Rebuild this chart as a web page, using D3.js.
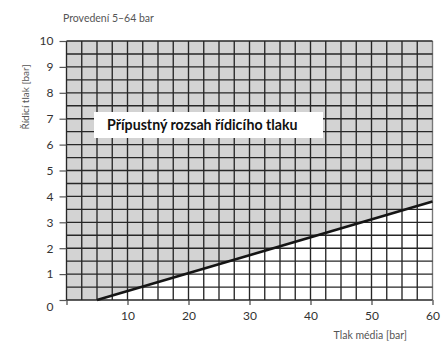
<!DOCTYPE html>
<html>
<head>
<meta charset="utf-8">
<script src="https://cdn.jsdelivr.net/npm/d3@7"></script>
<style>
  html, body { margin: 0; padding: 0; background: #fff; }
  svg { display: block; font-family: "Lato", "Noto Sans", sans-serif; }
</style>
</head>
<body>
<svg id="chart" width="447" height="343"></svg>
<script>
// Axis ticks and labels
const xTicks = [0, 10, 20, 30, 40, 50, 60];
const xTickLabels = ["", "10", "20", "30", "40", "50", "60"];
const yTicks = [0, 1, 2, 3, 4, 5, 6, 7, 8, 9, 10];
const yTickLabels = ["0", "1", "2", "3", "4", "5", "6", "7", "8", "9", "10"];

// Limit line of the admissible control pressure: medium pressure [bar] -> control pressure [bar]
const limitMedium = [5, 60];
const limitControl = [0, 3.8];

// Grid spacing in bar
const gridStepX = 2.5;
const gridStepY = 0.5;

const title = "Provedení 5–64 bar";
const xTitle = "Tlak média [bar]";
const yTitle = "Řídicí tlak [bar]";
const areaLabel = "Přípustný rozsah řídicího tlaku";

const svg = d3.select("#chart");
const plotLeft = 66.5, plotRight = 432.5, plotTop = 41, plotBottom = 300;

const x = d3.scaleLinear().domain([0, 60]).range([plotLeft, plotRight]);
const y = d3.scaleLinear().domain([0, 10]).range([plotBottom, plotTop]);

// Shaded admissible region: everything above the limit line
const regionPts = [[0, 0]]
  .concat(limitMedium.map((m, i) => [m, limitControl[i]]))
  .concat([[60, 10], [0, 10]]);
svg.append("path")
  .attr("d", d3.line().x(d => x(d[0])).y(d => y(d[1]))(regionPts) + "Z")
  .attr("fill", "#d3d3d3");

// Grid
const grid = svg.append("g").attr("stroke", "#262626").attr("stroke-width", 1.35);
grid.selectAll("line.v")
  .data(d3.range(0, 60 + 1e-9, gridStepX))
  .join("line")
  .attr("class", "v")
  .attr("x1", d => x(d)).attr("x2", d => x(d))
  .attr("y1", y(0)).attr("y2", y(10))
  .attr("stroke", (d, i) => (i === 24 ? "#777" : null));
grid.selectAll("line.h")
  .data(d3.range(0, 10 + 1e-9, gridStepY))
  .join("line")
  .attr("class", "h")
  .attr("x1", x(0)).attr("x2", x(60))
  .attr("y1", d => y(d)).attr("y2", d => y(d));

// Y axis ticks and labels
const yAxis = d3.axisLeft(y)
  .tickValues(yTicks)
  .tickSize(7)
  .tickPadding(6)
  .tickFormat((d, i) => yTickLabels[i]);
const gy = svg.append("g").attr("transform", `translate(${plotLeft},0)`).call(yAxis);
gy.select(".domain").remove();
gy.selectAll(".tick line").attr("stroke", "#555").attr("stroke-width", 1.2);
gy.selectAll(".tick text")
  .attr("fill", "#333")
  .attr("font-size", 12)
  .attr("font-family", "Lato, sans-serif")
  .attr("dy", (d) => (d === 0 ? "0.9em" : "0.32em"));

// X axis ticks and labels
const xAxis = d3.axisBottom(x)
  .tickValues(xTicks)
  .tickSize(5)
  .tickPadding(6)
  .tickFormat((d, i) => xTickLabels[i]);
const gx = svg.append("g").attr("transform", `translate(0,${plotBottom})`).call(xAxis);
gx.select(".domain").remove();
gx.selectAll(".tick line").attr("stroke", "#444").attr("stroke-width", 1.2);
gx.selectAll(".tick text")
  .attr("fill", "#333")
  .attr("font-size", 12)
  .attr("font-family", "Lato, sans-serif");

// Limit line
svg.append("path")
  .attr("d", d3.line().x(d => x(d[0])).y(d => y(d[1]))(limitMedium.map((m, i) => [m, limitControl[i]])))
  .attr("fill", "none")
  .attr("stroke", "#151515")
  .attr("stroke-width", 2.6);

// Label of the admissible region
const labelG = svg.append("g");
labelG.append("rect")
  .attr("x", 94).attr("y", 112).attr("width", 229).attr("height", 26)
  .attr("fill", "#fff");
labelG.append("text")
  .attr("x", 107).attr("y", 130)
  .attr("font-size", 14.2)
  .attr("font-weight", 700)
  .attr("fill", "#111")
  .text(areaLabel);

// Titles
svg.append("text")
  .attr("x", 63).attr("y", 22)
  .attr("font-size", 10.5)
  .attr("fill", "#555")
  .text(title);
svg.append("text")
  .attr("x", 407).attr("y", 339)
  .attr("text-anchor", "end")
  .attr("font-size", 10.5)
  .attr("fill", "#555")
  .text(xTitle);
svg.append("text")
  .attr("transform", "translate(29,97) rotate(-90)")
  .attr("text-anchor", "middle")
  .attr("font-size", 10)
  .attr("fill", "#555")
  .text(yTitle);
</script>
</body>
</html>
